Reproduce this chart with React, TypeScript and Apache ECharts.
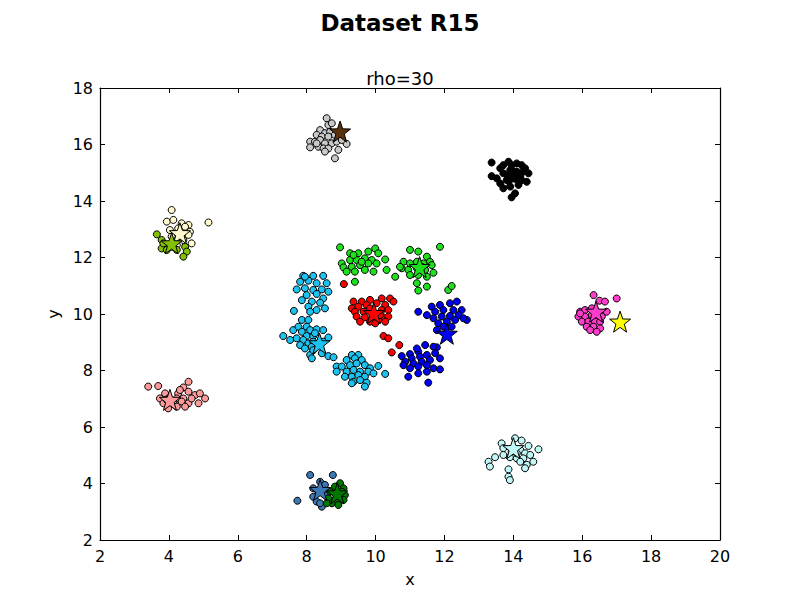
import React, { useEffect, useRef } from "react";
import * as echarts from "echarts";

type P = [number, number];

// ---------- data ----------
const cyanPts: P[] = [
  [7.90, 11.35], [8.19, 11.35], [8.48, 11.35], [7.81, 11.14], [8.05, 11.18], [8.29, 11.09], [8.58, 11.09],
  [7.71, 10.87], [7.95, 10.91], [8.19, 10.85], [8.44, 10.87], [8.63, 10.79], [8.00, 10.67], [8.29, 10.71],
  [8.48, 10.55], [7.86, 10.49], [8.15, 10.44], [8.39, 10.40], [8.05, 10.26], [8.29, 10.14], [8.10, 10.08],
  [8.53, 10.20], [7.63, 10.11], [7.95, 11.32],
  [7.32, 9.22], [7.61, 9.43], [7.76, 9.55], [8.00, 9.55], [7.86, 9.37], [8.10, 9.43], [8.29, 9.46],
  [8.48, 9.43], [8.63, 9.17], [8.00, 9.22], [8.19, 9.22], [7.71, 9.14], [7.90, 9.08], [8.05, 8.96],
  [8.19, 9.02], [8.48, 9.02], [7.81, 8.90], [7.95, 8.78], [8.15, 8.84], [8.44, 8.61], [8.63, 8.51],
  [8.78, 8.47], [8.10, 8.55], [8.19, 8.72], [8.34, 8.90], [7.52, 9.08], [7.86, 9.79], [8.05, 9.79],
  [8.24, 9.32], [8.15, 8.43],
  [9.31, 8.55], [9.50, 8.55], [9.16, 8.37], [9.40, 8.43], [9.60, 8.37], [8.87, 8.14], [9.02, 8.14],
  [9.26, 8.19], [9.45, 8.25], [9.69, 8.19], [9.84, 8.08], [10.08, 8.16], [9.16, 7.96], [9.36, 8.02],
  [9.55, 7.96], [9.79, 7.96], [8.87, 7.96], [9.31, 7.78], [9.50, 7.84], [9.69, 7.78], [9.94, 7.90],
  [10.28, 7.88], [9.36, 7.60], [9.55, 7.66], [9.74, 7.57], [9.31, 7.55], [9.69, 7.43], [9.11, 7.78],
];

const redPts: P[] = [
  [9.36, 10.44], [9.60, 10.44], [9.84, 10.50], [10.18, 10.55], [10.42, 10.55], [10.52, 10.44],
  [9.31, 10.20], [9.50, 10.26], [9.74, 10.32], [10.03, 10.38], [10.28, 10.32], [9.40, 10.08],
  [9.65, 10.08], [9.94, 10.02], [10.18, 10.14], [10.37, 10.14], [9.45, 9.91], [9.69, 9.88],
  [9.99, 9.85], [10.23, 9.88], [10.37, 9.91], [9.55, 9.73], [9.84, 9.73], [10.08, 9.79],
  [10.28, 9.73], [9.99, 9.67], [9.08, 11.06], [10.23, 9.22], [10.37, 9.14], [10.69, 8.90],
  [10.47, 8.64], [9.84, 10.20], [10.13, 9.96],
];

const greenPts: P[] = [
  [8.97, 12.36], [9.26, 12.15], [9.50, 12.15], [9.79, 12.21], [9.99, 12.32], [10.08, 12.15],
  [9.02, 11.79], [9.26, 11.91], [9.45, 11.91], [9.69, 11.97], [9.89, 11.91], [10.28, 11.93],
  [9.07, 11.65], [9.31, 11.67], [9.55, 11.73], [9.79, 11.79], [10.03, 11.79], [9.16, 11.50],
  [9.40, 11.50], [9.69, 11.56], [9.94, 11.50], [10.32, 11.56], [9.36, 12.09], [9.60, 11.85],
  [9.40, 11.14], [10.57, 11.32],
  [11.00, 12.27], [11.24, 12.21], [11.49, 12.03], [11.58, 11.85], [11.87, 12.38], [10.81, 11.85],
  [11.00, 11.79], [11.20, 11.85], [11.39, 11.79], [11.63, 11.73], [10.76, 11.62], [10.95, 11.56],
  [11.20, 11.62], [11.44, 11.56], [11.68, 11.46], [11.00, 11.38], [11.24, 11.38], [11.49, 11.32],
  [11.20, 11.09], [11.24, 10.83], [11.49, 10.97], [12.11, 10.85], [12.21, 10.99], [10.71, 11.67],
  [11.34, 11.67],
];

const bluePts: P[] = [
  [11.24, 10.08], [11.63, 10.26], [11.87, 10.32], [12.16, 10.38], [12.36, 10.44], [12.50, 10.14],
  [12.65, 9.79], [11.49, 9.96], [11.73, 10.08], [11.97, 10.14], [12.26, 10.14], [11.68, 9.85],
  [11.92, 9.91], [12.16, 9.93], [12.41, 9.96], [11.82, 9.67], [12.07, 9.73], [12.31, 9.79],
  [12.55, 9.85], [11.97, 9.55], [12.21, 9.55], [11.78, 9.43], [11.78, 8.82],
  [10.76, 8.51], [11.00, 8.58], [11.24, 8.67], [11.44, 8.90], [11.68, 8.84], [10.86, 8.31],
  [11.05, 8.43], [11.29, 8.49], [11.49, 8.55], [11.73, 8.61], [10.81, 8.19], [11.10, 8.25],
  [11.34, 8.31], [11.58, 8.37], [11.87, 8.43], [11.00, 8.08], [11.24, 8.14], [11.49, 8.19],
  [11.68, 8.08], [11.24, 7.90], [11.49, 7.96], [11.87, 8.04], [10.95, 7.78], [11.53, 7.57],
  [11.20, 8.78],
];

const greyPts: P[] = [
  [8.58, 16.93], [8.63, 16.69], [8.73, 16.75], [8.39, 16.51], [8.53, 16.40], [8.68, 16.45],
  [8.29, 16.34], [8.44, 16.28], [8.63, 16.28], [8.82, 16.34], [8.10, 16.10], [8.24, 16.10],
  [8.39, 16.16], [8.53, 16.04], [8.73, 16.04], [8.87, 16.10], [9.16, 16.02], [8.10, 15.90],
  [8.34, 15.92], [8.49, 15.86], [8.63, 15.86], [8.92, 15.81], [8.53, 15.75], [8.82, 15.51],
  [9.02, 16.16], [8.29, 16.04],
];

const blackPts: P[] = [
  [13.37, 15.36], [13.37, 14.88], [13.62, 15.16], [13.71, 14.98], [13.86, 15.39], [13.95, 15.27],
  [14.10, 15.33], [14.24, 15.27], [14.34, 15.16], [14.44, 14.98], [13.81, 14.74], [14.00, 14.80],
  [14.20, 14.86], [14.39, 14.68], [13.62, 14.62], [13.91, 14.51], [14.15, 14.57], [13.71, 14.45],
  [14.05, 14.27], [13.95, 14.13], [14.29, 15.04], [13.91, 15.10], [14.10, 15.04], [13.71, 15.27],
  [13.52, 14.80], [14.24, 14.74], [13.86, 14.92],
];

const creamPts: P[] = [
  [4.08, 13.68], [3.94, 13.27], [4.13, 13.33], [4.37, 13.21], [4.57, 13.15], [5.15, 13.24],
  [4.03, 12.97], [4.27, 13.03], [4.47, 13.09], [4.61, 12.91], [4.08, 12.74], [4.32, 12.74],
  [4.57, 12.80], [4.66, 12.50], [4.23, 12.44], [4.42, 12.62],
];

const yellowGreenPts: P[] = [
  [3.65, 12.82], [3.79, 12.62], [3.89, 12.44], [3.79, 12.32], [4.08, 12.38], [3.94, 12.27],
  [4.47, 12.38], [4.52, 12.21], [4.42, 12.03], [4.23, 12.27], [3.84, 12.50],
];

const salmonPts: P[] = [
  [3.40, 7.43], [3.69, 7.45], [4.42, 7.40], [4.57, 7.60], [3.89, 7.19], [4.27, 7.19], [4.57, 7.25],
  [4.76, 7.13], [4.90, 7.19], [5.05, 7.01], [3.74, 7.01], [3.98, 7.01], [4.23, 7.01], [4.42, 7.01],
  [3.84, 6.84], [4.13, 6.84], [4.37, 6.90], [4.57, 6.84], [4.86, 6.84], [3.98, 6.66], [4.23, 6.72],
  [4.47, 6.72], [3.94, 6.96], [4.66, 7.01], [4.32, 7.31],
];

const steelBluePts: P[] = [
  [8.10, 4.30], [8.76, 4.30], [7.73, 3.39], [8.39, 4.06], [8.53, 3.95], [8.19, 3.83],
  [8.34, 3.71], [8.19, 3.53], [8.29, 3.36], [8.44, 3.18], [8.39, 3.30], [8.58, 3.59],
];

const darkGreenPts: P[] = [
  [8.97, 4.01], [8.82, 3.89], [9.07, 3.83], [8.68, 3.71], [8.92, 3.65], [9.11, 3.59], [8.63, 3.47],
  [8.87, 3.42], [9.07, 3.42], [8.73, 3.30], [8.92, 3.24], [8.58, 3.30], [9.02, 3.71],
];

const lightCyanPts: P[] = [
  [14.05, 5.60], [14.24, 5.52], [13.66, 5.42], [14.44, 5.33], [14.73, 5.21], [13.71, 5.25],
  [13.95, 5.13], [14.20, 5.19], [14.34, 5.07], [13.47, 4.93], [13.28, 4.77], [13.71, 5.01],
  [13.90, 4.93], [14.10, 4.89], [14.29, 4.89], [14.49, 5.01], [14.58, 4.77], [14.20, 4.77],
  [14.39, 4.66], [13.32, 4.60], [13.86, 4.50], [13.86, 4.24], [13.90, 4.12], [14.34, 4.54],
  [14.10, 5.07],
];

const magentaPts: P[] = [
  [16.33, 10.67], [16.50, 10.47], [16.66, 10.44], [17.00, 10.55], [15.94, 10.08], [16.08, 10.14],
  [16.28, 10.20], [15.89, 9.91], [16.08, 9.91], [16.28, 9.97], [16.57, 9.91], [15.99, 9.73],
  [16.18, 9.73], [16.37, 9.73], [16.52, 9.73], [16.13, 9.55], [16.33, 9.55], [16.52, 9.49],
  [16.23, 9.43], [16.42, 9.37], [15.94, 10.02], [16.71, 10.08],
];

const clusters: P[][] = [
  cyanPts, redPts, greenPts, bluePts, greyPts, blackPts, creamPts, yellowGreenPts,
  salmonPts, steelBluePts, darkGreenPts, lightCyanPts, magentaPts,
];

// cluster centres (density peaks)
const centers: P[] = [
  [8.37, 8.96], [9.95, 10.03], [11.28, 11.66], [12.07, 9.30], [8.97, 16.46], [14.0, 14.9],
  [4.32, 12.86], [4.08, 12.50], [4.03, 6.96], [8.39, 3.77], [8.89, 3.65], [14.0, 5.25],
  [16.40, 10.08], [17.10, 9.73],
];

const xTicks = [2, 4, 6, 8, 10, 12, 14, 16, 18, 20];
const yTicks = [2, 4, 6, 8, 10, 12, 14, 16, 18];

// ---------- styles ----------
const pointColors = [
  "#1cc3f0", "#ff0000", "#1ee01e", "#0000f0", "#c8c8c8", "#000000", "#fffacd", "#82c000",
  "#ff9a9a", "#3c78b4", "#007800", "#c0f8f8", "#ff3ccb",
];
const centerColors = [
  "#1cc3f0", "#ff0000", "#1ee01e", "#0000f0", "#5a330d", "#000000", "#fffacd", "#82c000",
  "#ff9a9a", "#3c78b4", "#007800", "#c0f8f8", "#ff3ccb", "#ffff00",
];

const STAR =
  "path://M0,-10 L2.35,-3.24 L9.51,-3.09 L3.8,1.24 L5.88,8.09 L0,4 L-5.88,8.09 L-3.8,1.24 L-9.51,-3.09 L-2.35,-3.24 Z";

const FONT = "DejaVu Sans";

export default function App() {
  const ref = useRef<HTMLDivElement>(null);

  useEffect(() => {
    if (!ref.current) return;
    const chart = echarts.init(ref.current, null, { renderer: "svg" });

    const xMin = xTicks[0];
    const xMax = xTicks[xTicks.length - 1];
    const yMin = yTicks[0];
    const yMax = yTicks[yTicks.length - 1];

    const axisCommon = {
      type: "value" as const,
      splitLine: { show: false },
      axisLine: { show: true, onZero: false, lineStyle: { color: "#000", width: 1.2 } },
      axisTick: { show: true, inside: true, length: 5, lineStyle: { color: "#000" } },
    };

    const pointSeries = clusters.map((pts, i) => ({
      type: "scatter" as const,
      data: pts,
      symbol: "circle",
      symbolSize: 7,
      itemStyle: { color: pointColors[i], borderColor: "#000", borderWidth: 1, opacity: 1 },
      z: 2,
    }));

    const starSeries = {
      type: "scatter" as const,
      data: centers.map((c, i) => ({
        value: c,
        itemStyle: { color: centerColors[i], borderColor: "#000", borderWidth: 1, opacity: 1 },
      })),
      symbol: STAR,
      symbolSize: 21,
      z: 3,
    };

    chart.setOption({
      animation: false,
      backgroundColor: "#fff",
      title: [
        {
          text: "Dataset R15",
          left: "center",
          top: 6,
          textStyle: { fontFamily: FONT, fontSize: 23, fontWeight: "bold", color: "#000" },
        },
        {
          text: "rho=30",
          left: "center",
          top: 64,
          textStyle: { fontFamily: FONT, fontSize: 18, fontWeight: "normal", color: "#000" },
        },
      ],
      grid: { left: 100, top: 88, width: 620, height: 452, containLabel: false },
      xAxis: [
        {
          ...axisCommon,
          position: "bottom",
          min: xMin,
          max: xMax,
          interval: 2,
          name: "x",
          nameLocation: "middle",
          nameGap: 31,
          nameTextStyle: { fontFamily: FONT, fontSize: 16, color: "#000" },
          axisLabel: { fontFamily: FONT, fontSize: 16, color: "#000", margin: 8 },
        },
        {
          ...axisCommon,
          position: "top",
          min: xMin,
          max: xMax,
          interval: 2,
          axisLabel: { show: false },
        },
      ],
      yAxis: [
        {
          ...axisCommon,
          position: "left",
          min: yMin,
          max: yMax,
          interval: 2,
          name: "y",
          nameLocation: "middle",
          nameGap: 36,
          nameRotate: 90,
          nameTextStyle: { fontFamily: FONT, fontSize: 16, color: "#000" },
          axisLabel: { fontFamily: FONT, fontSize: 16, color: "#000", margin: 7 },
        },
        {
          ...axisCommon,
          position: "right",
          min: yMin,
          max: yMax,
          interval: 2,
          axisLabel: { show: false },
        },
      ],
      series: [...pointSeries, starSeries],
    });

    return () => chart.dispose();
  }, []);

  return (
    <div
      ref={ref}
      style={{ position: "fixed", left: 0, top: 0, width: 800, height: 600, background: "#fff" }}
    />
  );
}
